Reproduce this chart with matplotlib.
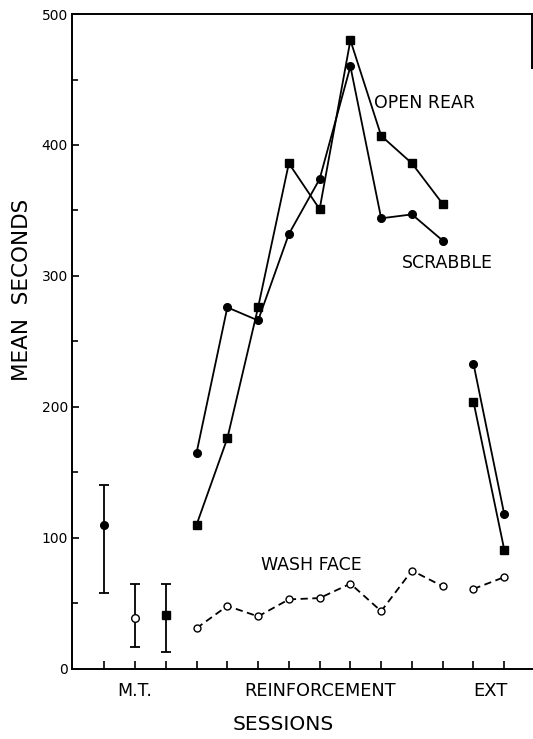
import matplotlib.pyplot as plt

# session positions
mt_x = [1, 2, 3]
rf_x = [4, 5, 6, 7, 8, 9, 10, 11, 12]
ext_x = [13, 14]

# M.T. means with range bars
mt_means = [110, 39, 41]
mt_low = [58, 17, 13]
mt_high = [140, 65, 65]

# reinforcement / extinction sessions
scrabble_rf = [165, 276, 266, 332, 374, 460, 344, 347, 327]
scrabble_ext = [233, 118]
openrear_rf = [110, 176, 276, 386, 351, 480, 407, 386, 355]
openrear_ext = [204, 91]
washface_rf = [31, 48, 40, 53, 54, 65, 44, 75, 63]
washface_ext = [61, 70]

plt.rcParams['font.family'] = ['DejaVu Sans']

fig = plt.figure(figsize=(5.33, 7.39), dpi=100)
ax = fig.add_axes([0.135, 0.095, 0.863, 0.886])

lw = 1.3
k = 'black'

# M.T. points with bars
mt_markers = [('o', k), ('o', 'white'), ('s', k)]
for x, m, lo, hi, (mk, fc) in zip(mt_x, mt_means, mt_low, mt_high, mt_markers):
    ax.errorbar([x], [m], yerr=[[m - lo], [hi - m]], fmt=mk, color=k,
                mfc=fc, mec=k, ms=6 if mk == 's' else 5.5, elinewidth=lw,
                capsize=3.5, capthick=lw, zorder=3)

# scrabble (filled circles)
ax.plot(rf_x, scrabble_rf, '-o', color=k, lw=lw, ms=5.5, zorder=3)
ax.plot(ext_x, scrabble_ext, '-o', color=k, lw=lw, ms=5.5, zorder=3)

# open rear (filled squares)
ax.plot(rf_x, openrear_rf, '-s', color=k, lw=lw, ms=6, zorder=3)
ax.plot(ext_x, openrear_ext, '-s', color=k, lw=lw, ms=6, zorder=3)

# wash face (open circles, dashed)
ax.plot(rf_x, washface_rf, '--o', color=k, lw=lw, ms=5, mfc='white',
        dashes=(4, 2.5), zorder=3)
ax.plot(ext_x, washface_ext, '--o', color=k, lw=lw, ms=5, mfc='white',
        dashes=(4, 2.5), zorder=3)

ax.text(9.78, 432, 'OPEN REAR', fontsize=12.5, va='center', ha='left')
ax.text(10.68, 310, 'SCRABBLE', fontsize=12.5, va='center', ha='left')
ax.text(6.1, 79, 'WASH FACE', fontsize=12.5, va='center', ha='left')

ax.set_xlim(-0.05, 14.9)
ax.set_ylim(0, 500)
ax.set_yticks([0, 100, 200, 300, 400, 500])
ax.set_yticks([50, 150, 250, 350, 450], minor=True)
ax.set_xticks(mt_x + rf_x + ext_x)
ax.set_xticklabels([])
ax.tick_params(axis='both', which='both', direction='in', width=1.2,
               color=k)
ax.tick_params(axis='y', which='major', length=5, labelsize=10, pad=3)
ax.tick_params(axis='y', which='minor', length=4)
ax.tick_params(axis='x', which='major', length=6)
for side in ['left', 'bottom', 'top', 'right']:
    ax.spines[side].set_linewidth(1.4)
ax.spines['right'].set_bounds(459, 500)

# group labels under the axis
ax.text(1.98, -17, 'M.T.', fontsize=12.5, ha='center', va='center')
ax.text(8.0, -17, 'REINFORCEMENT', fontsize=12.8, ha='center', va='center')
ax.text(13.55, -17, 'EXT', fontsize=13, ha='center', va='center')

fig.text(283 / 533, 1 - 725 / 739, 'SESSIONS', fontsize=14.5,
         ha='center', va='center')
fig.text(22 / 533, 1 - 290 / 739, 'MEAN  SECONDS', fontsize=15.5,
         ha='center', va='center', rotation=90)

fig.savefig('out.png', dpi=100)
